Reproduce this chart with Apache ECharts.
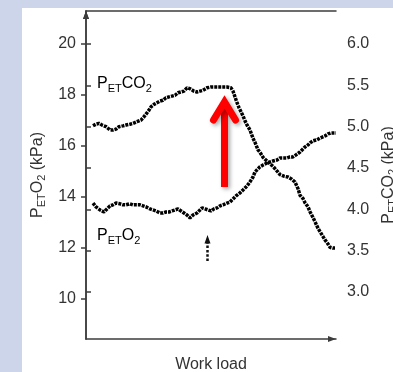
<!DOCTYPE html>
<html>
<head>
<meta charset="utf-8">
<script src="https://cdn.jsdelivr.net/npm/echarts@6/dist/echarts.min.js"></script>
<style>
html,body{margin:0;padding:0;background:#ccd5ea;}
#chart{width:393px;height:372px;}
</style>
</head>
<body>
<div id="chart"></div>
<script>
// Work load (% of plotted range) and PETCO2 (kPa, right axis)
var co2Load = [2.8,4.0,5.2,6.4,8.0,9.6,10.8,12.0,13.2,14.8,16.0,17.6,18.8,20.4,22.0,23.2,24.0,25.2,26.0,27.2,28.0,29.6,30.8,32.0,33.2,34.4,35.6,36.8,38.0,39.2,40.4,41.6,43.2,44.4,45.6,46.8,48.4,50.0,51.6,53.2,54.8,56.4,58.0,58.8,59.6,60.4,61.2,62.0,62.8,63.6,64.4,65.6,66.8,67.6,68.8,69.6,70.8,71.6,72.8,73.6,74.8,75.6,76.8,77.6,79.2,80.8,82.0,83.6,84.8,85.6,86.8,87.6,88.8,89.6,90.8,91.6,92.8,93.6,94.8,95.6,96.8,97.6,98.8,99.6];
var co2Values = [5.01,5.03,5.04,5.02,5.00,4.96,4.96,4.97,5.00,5.01,5.02,5.03,5.04,5.06,5.08,5.12,5.14,5.20,5.24,5.27,5.29,5.31,5.32,5.35,5.36,5.37,5.38,5.41,5.42,5.43,5.47,5.46,5.43,5.42,5.43,5.44,5.47,5.48,5.48,5.48,5.48,5.48,5.47,5.43,5.36,5.29,5.23,5.18,5.13,5.07,5.02,4.96,4.86,4.81,4.72,4.69,4.63,4.61,4.57,4.55,4.52,4.50,4.45,4.42,4.40,4.39,4.37,4.33,4.25,4.17,4.13,4.08,4.03,3.97,3.90,3.85,3.77,3.73,3.67,3.63,3.58,3.54,3.53,3.53];
// Work load and PETO2 (kPa, left axis)
var o2Load = [2.8,4.0,5.6,7.2,8.4,9.6,10.8,12.0,13.6,14.8,16.0,17.6,18.8,20.0,21.6,22.8,24.0,25.6,26.8,28.0,29.6,30.8,32.0,33.2,34.4,35.6,36.8,38.0,39.2,40.4,41.6,42.8,44.4,45.6,46.4,47.6,48.8,50.0,51.2,52.4,53.6,54.8,56.4,57.6,58.8,60.0,61.6,62.8,64.4,65.6,66.8,67.6,68.8,69.6,70.8,72.4,73.6,74.8,76.4,77.6,79.2,80.4,81.6,82.8,84.0,85.6,86.8,87.6,88.8,89.6,90.8,92.4,93.6,94.4,95.6,96.8,98.0,99.2,100];
var o2Values = [13.76,13.61,13.49,13.41,13.53,13.65,13.69,13.76,13.73,13.69,13.69,13.73,13.69,13.69,13.69,13.65,13.61,13.53,13.49,13.45,13.37,13.37,13.41,13.41,13.45,13.49,13.53,13.45,13.37,13.29,13.18,13.29,13.37,13.49,13.57,13.53,13.49,13.45,13.53,13.57,13.65,13.69,13.76,13.80,13.92,14.04,14.16,14.27,14.43,14.59,14.78,14.98,15.10,15.18,15.25,15.33,15.37,15.41,15.45,15.53,15.53,15.53,15.57,15.57,15.65,15.76,15.88,15.96,16.04,16.12,16.20,16.24,16.31,16.35,16.39,16.47,16.51,16.51,16.51];
// Tick labels
var o2Ticks = [10,12,14,16,18,20];
var co2Ticks = [3.0,3.5,4.0,4.5,5.0,5.5,6.0];

var FONT = '"Liberation Sans", Arial, Helvetica, sans-serif';
var AX = '#3c3c3c';
var TXT = '#333333';
var richStyles = {
  m: {fontSize: 16, color: TXT, fontFamily: FONT},
  s: {fontSize: 11, color: TXT, fontFamily: FONT, verticalAlign: 'top', padding: [9, 0, 0, 0]}
};

var chart = echarts.init(document.getElementById('chart'), null, {renderer: 'canvas'});

function axisLineStyle(withArrow) {
  return {
    show: true,
    lineStyle: {color: AX, width: 1.5},
    symbol: withArrow ? ['none', 'triangle'] : ['none', 'none'],
    symbolSize: [6, 8],
    symbolOffset: [0, -4]
  };
}

var option = {
  backgroundColor: '#ccd5ea',
  animation: false,
  textStyle: {fontFamily: FONT},
  grid: {left: 86, right: 57, top: 11, bottom: 33, outerBoundsMode: 'none', containLabel: false},
  xAxis: [{
    type: 'value', min: 0, max: 100,
    axisLine: axisLineStyle(true),
    axisTick: {show: false}, axisLabel: {show: false}, splitLine: {show: false},
    name: 'Work load', nameLocation: 'middle', nameGap: 18,
    nameTextStyle: {fontSize: 16, color: TXT, fontFamily: FONT}
  }, {
    type: 'value', min: 0, max: 100, position: 'top',
    axisLine: axisLineStyle(false),
    axisTick: {show: false}, axisLabel: {show: false}, splitLine: {show: false}
  }],
  yAxis: [{
    type: 'value', min: 8.43, max: 21.29, position: 'left',
    axisLine: axisLineStyle(true),
    axisTick: {show: true, length: 5, customValues: o2Ticks, lineStyle: {color: AX, width: 1.5}},
    axisLabel: {customValues: o2Ticks, fontSize: 16, color: TXT, margin: 10, fontFamily: FONT},
    splitLine: {show: false},
    name: '{m|P}{s|ET}{m|O}{s|2}{m| (kPa)}',
    nameLocation: 'middle', nameRotate: 90, nameGap: 35,
    nameTextStyle: {rich: richStyles}
  }, {
    type: 'value', min: 2.43, max: 6.40, position: 'right',
    axisLine: axisLineStyle(true),
    axisTick: {show: true, length: 5, customValues: co2Ticks, lineStyle: {color: AX, width: 1.5}},
    axisLabel: {customValues: co2Ticks, fontSize: 16, color: TXT, margin: 11, fontFamily: FONT,
      formatter: function (v) { return Number(v).toFixed(1); }},
    splitLine: {show: false},
    name: '{m|P}{s|ET}{m|CO}{s|2}{m| (kPa)}',
    nameLocation: 'middle', nameRotate: 90, nameGap: 41,
    nameTextStyle: {rich: richStyles}
  }],
  series: [{
    name: 'PETCO2', type: 'line', xAxisIndex: 0, yAxisIndex: 1,
    data: co2Load.map(function (x, i) { return [x, co2Values[i]]; }),
    showSymbol: false, silent: true,
    lineStyle: {color: '#000', width: 3.5, type: [3, 1]}
  }, {
    name: 'PETO2', type: 'line', xAxisIndex: 0, yAxisIndex: 0,
    data: o2Load.map(function (x, i) { return [x, o2Values[i]]; }),
    showSymbol: false, silent: true,
    lineStyle: {color: '#000', width: 3.5, type: [3, 1]}
  }],
  graphic: [
    {type: 'rect', z: -100, silent: true, shape: {x: 22, y: 8, width: 371, height: 364}, style: {fill: '#ffffff'}},
    {type: 'text', x: 97, y: 74, z: 10, style: {text: '{m|P}{s|ET}{m|CO}{s|2}', rich: richStyles}},
    {type: 'text', x: 97, y: 226, z: 10, style: {text: '{m|P}{s|ET}{m|O}{s|2}', rich: richStyles}},
    // red arrow
    {type: 'group', z: 20, children: [
      {type: 'line', shape: {x1: 224.5, y1: 187, x2: 224.5, y2: 106},
        style: {stroke: '#ff0000', lineWidth: 7, lineCap: 'butt', shadowBlur: 4, shadowColor: 'rgba(0,0,0,0.35)', shadowOffsetX: 2, shadowOffsetY: 2}},
      {type: 'polyline', shape: {points: [[213.5, 120], [224.5, 102], [235.5, 120]]},
        style: {stroke: '#ff0000', lineWidth: 7, lineCap: 'round', lineJoin: 'miter', fill: null, shadowBlur: 4, shadowColor: 'rgba(0,0,0,0.35)', shadowOffsetX: 2, shadowOffsetY: 2}}
    ]},
    // dotted arrow
    {type: 'line', z: 20, shape: {x1: 207.5, y1: 261, x2: 207.5, y2: 243},
      style: {stroke: '#111', lineWidth: 2.5, lineDash: [2.5, 1.8]}},
    {type: 'polygon', z: 20, shape: {points: [[207.5, 235], [204.5, 243.5], [210.5, 243.5]]},
      style: {fill: '#111'}}
  ]
};
chart.setOption(option);
</script>
</body>
</html>
